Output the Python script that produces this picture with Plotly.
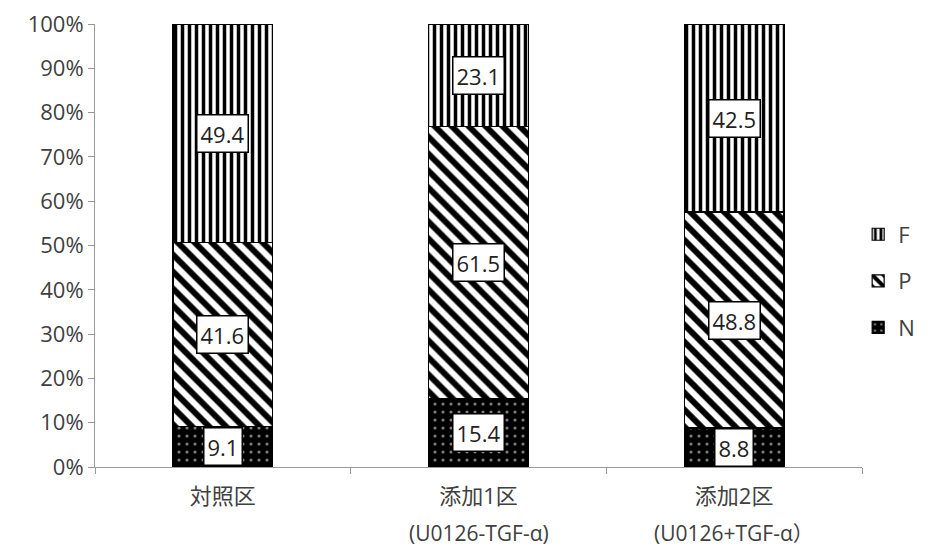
import plotly.graph_objects as go

categories = ["対照区", "添加1区", "添加2区"]
sub_labels = ["", "(U0126-TGF-α)", "(U0126+TGF-α）"]
n_vals = [9.1, 15.4, 8.8]
p_vals = [41.6, 61.5, 48.8]
f_vals = [49.4, 23.1, 42.5]
y_ticks = [0, 10, 20, 30, 40, 50, 60, 70, 80, 90, 100]

FONT = "Open Sans, Noto Sans CJK JP"
TXT = "#404040"
FS = 22
fig = go.Figure()

series = [
    ("N", n_vals, dict(shape=".", fgcolor="white", bgcolor="black", size=8, solidity=0.12), 3),
    ("P", p_vals, dict(shape="\\", fgcolor="black", bgcolor="white", size=12, solidity=0.5, fgopacity=1), 2),
    ("F", f_vals, dict(shape="|", fgcolor="black", bgcolor="white", size=7, solidity=0.5, fgopacity=1), 1),
]
for name, vals, pat, rank in series:
    fig.add_trace(go.Bar(
        x=categories, y=vals, name=name, width=0.39,
        marker=dict(color=pat["bgcolor"], pattern=pat,
                    line=dict(color="black", width=1.2)),
        legendgroup=name, legendrank=rank,
    ))

# labels at segment centres (normalised like a 100% stacked chart)
for j, cat in enumerate(categories):
    total = n_vals[j] + p_vals[j] + f_vals[j]
    base = 0
    for name, vals, _, _ in series:
        v = vals[j] / total * 100
        fig.add_annotation(x=cat, y=base + v / 2, text=str(vals[j]), showarrow=False,
                           bgcolor="white", bordercolor="black", borderwidth=1.5,
                           borderpad=3, font=dict(family=FONT, size=22, color="#222"))
        base += v
    if sub_labels[j]:
        fig.add_annotation(x=cat, y=-0.15, yref="paper", yanchor="middle", text=sub_labels[j],
                           showarrow=False, borderpad=0,
                           font=dict(family=FONT, size=21, color=TXT))

fig.update_layout(
    barmode="stack", barnorm="percent",
    width=948, height=550,
    margin=dict(l=95, r=86, t=24, b=83),
    plot_bgcolor="white", paper_bgcolor="white",
    font=dict(family=FONT, size=FS, color=TXT),
    legend=dict(x=0.995, xanchor="left", y=0.42, yanchor="middle", traceorder="grouped",
                tracegroupgap=15, font=dict(family=FONT, size=FS, color=TXT), itemwidth=30),
    showlegend=True,
)
fig.update_yaxes(range=[0, 100], tickvals=y_ticks, ticktext=[f"{t}%" for t in y_ticks],
                 tickfont=dict(family=FONT, size=FS, color=TXT), showgrid=False,
                 showline=True, linecolor="#999", linewidth=1, ticks="outside",
                 tickcolor="#999", ticklen=6, zeroline=False, automargin=False)
fig.update_xaxes(showline=True, linecolor="#999", linewidth=1, ticks="outside",
                 tickson="boundaries", tickcolor="#999", ticklen=6, showgrid=False,
                 tickfont=dict(family=FONT, size=FS, color=TXT), ticklabelstandoff=10,
                 automargin=False)

fig.write_html("out.html")
